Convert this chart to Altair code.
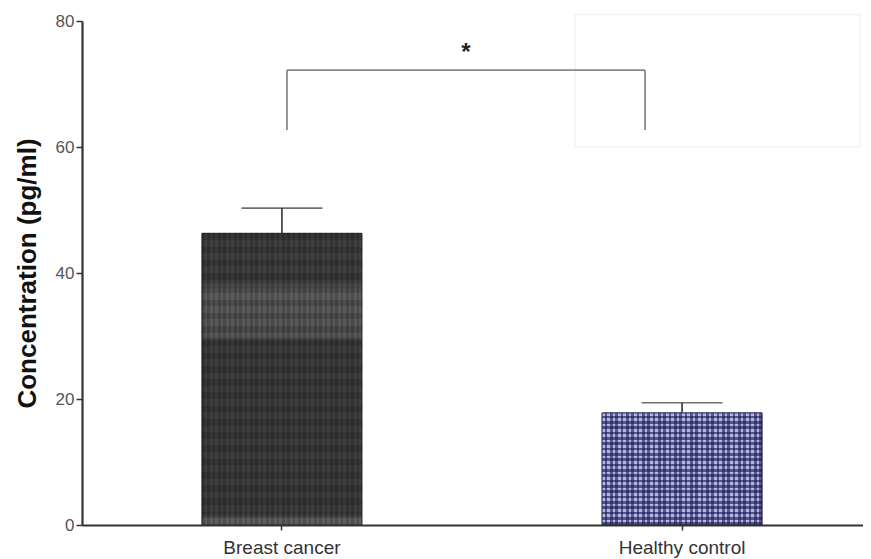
import altair as alt
import pandas as pd

# ---- data ----
groups = ["Breast cancer", "Healthy control"]
means = [46.3, 17.8]
sems = [4.0, 1.6]

bracket_top = 72.2
bracket_leg_bottom = 62.7
star_level = 75.6
sig_label = "*"

ghost_box_low = 60.0
ghost_box_high = 81.0

y_ticks = [0, 20, 40, 60, 80]

df = pd.DataFrame({"group": groups, "mean": means, "sem": sems})
df["upper"] = df["mean"] + df["sem"]

br = pd.DataFrame({"g1": [groups[0]], "g2": [groups[1]],
                   "top": [bracket_top], "bottom": [bracket_leg_bottom],
                   "star": [star_level], "label": [sig_label]})
box = pd.DataFrame({"g": [groups[1]], "lo": [ghost_box_low], "hi": [ghost_box_high]})

xscale = alt.Scale(domain=groups, paddingInner=0.6, paddingOuter=0.276, align=0.543)
yscale = alt.Scale(domain=[0, 80], nice=False)

X = alt.X("group:N", scale=xscale, sort=groups,
          axis=alt.Axis(title=None, labelAngle=0, labelAlign="center", labelBaseline="top",
                        labelFontSize=19, labelColor="#333",
                        labelFont="Liberation Sans", labelPadding=8, tickSize=5,
                        tickColor="#333", tickWidth=1.5, domainColor="#333", domainWidth=2.2))
Y = alt.Y("mean:Q", scale=yscale,
          axis=alt.Axis(title="Concentration (pg/ml)", values=y_ticks, grid=False,
                        titleFontSize=26, titleFont="Liberation Sans", titleFontWeight="bold",
                        titleColor="#111", titlePadding=15,
                        labelFontSize=17, labelColor="#555", labelFont="Liberation Sans",
                        tickSize=6, tickColor="#333", tickWidth=1.5,
                        domainColor="#333", domainWidth=2.2, labelPadding=2))


def stripes(c1, c2, n, horizontal):
    stops = []
    for i in range(n):
        a = i / n
        m = (i + 0.5) / n
        b = (i + 1) / n
        stops += [alt.GradientStop(offset=a, color=c1), alt.GradientStop(offset=m, color=c1),
                  alt.GradientStop(offset=m, color=c2), alt.GradientStop(offset=b, color=c2)]
    if horizontal:
        return alt.LinearGradient(gradient="linear", stops=stops, x1=0, x2=1, y1=0, y2=0)
    return alt.LinearGradient(gradient="linear", stops=stops, x1=0, x2=0, y1=0, y2=1)


# Breast cancer: dark grey with a lighter band
m0 = means[0]
def off(v):
    return (m0 - v) / m0

bc_grad = alt.LinearGradient(
    gradient="linear", x1=0, x2=0, y1=0, y2=1,
    stops=[alt.GradientStop(offset=0, color="#404040"),
           alt.GradientStop(offset=off(38.5), color="#404040"),
           alt.GradientStop(offset=off(37.5), color="#5c5c5c"),
           alt.GradientStop(offset=off(30.0), color="#585858"),
           alt.GradientStop(offset=off(29.0), color="#3e3e3e"),
           alt.GradientStop(offset=off(2.0), color="#3e3e3e"),
           alt.GradientStop(offset=off(1.0), color="#5e5e5e"),
           alt.GradientStop(offset=1, color="#5e5e5e")])

base_bar = alt.Chart(df).encode(x=X, y=Y)

bar_bc = base_bar.transform_filter(alt.datum.group == groups[0]).mark_bar(
    fill=bc_grad, stroke="#222", strokeWidth=1)
bar_bc_tex = base_bar.transform_filter(alt.datum.group == groups[0]).mark_bar(
    fill=stripes("rgba(0,0,0,0.18)", "rgba(0,0,0,0)", 30, True))
bar_bc_tex2 = base_bar.transform_filter(alt.datum.group == groups[0]).mark_bar(
    fill=stripes("rgba(0,0,0,0.15)", "rgba(0,0,0,0)", 22, False))

bar_hc = base_bar.transform_filter(alt.datum.group == groups[1]).mark_bar(
    fill=stripes("#b4b4f0", "#55558e", 21, False), stroke="#1b1b45", strokeWidth=1)
bar_hc_tex = base_bar.transform_filter(alt.datum.group == groups[1]).mark_bar(
    fill=stripes("rgba(27,27,69,0.0)", "rgba(27,27,69,0.6)", 30, True))

err_rule = alt.Chart(df).mark_rule(color="#333", strokeWidth=1.6).encode(
    x=alt.X("group:N", scale=xscale, sort=groups), y="mean:Q", y2="upper:Q")
err_cap = alt.Chart(df).mark_tick(color="#333", thickness=1.6, size=81).encode(
    x=alt.X("group:N", scale=xscale, sort=groups), y=alt.Y("upper:Q", scale=yscale))

br_color = "#8a8a8a"
br_h = alt.Chart(br).mark_rule(color=br_color, strokeWidth=1.8, xOffset=5, x2Offset=-37).encode(
    x=alt.X("g1:N", scale=xscale, sort=groups), x2="g2:N", y=alt.Y("top:Q", scale=yscale))
br_l = alt.Chart(br).mark_rule(color=br_color, strokeWidth=1.8, xOffset=5).encode(
    x=alt.X("g1:N", scale=xscale, sort=groups), y=alt.Y("bottom:Q", scale=yscale), y2="top:Q")
br_r = alt.Chart(br).mark_rule(color=br_color, strokeWidth=1.8, xOffset=-37).encode(
    x=alt.X("g2:N", scale=xscale, sort=groups), y=alt.Y("bottom:Q", scale=yscale), y2="top:Q")
star = alt.Chart(br).mark_text(fontSize=24, fontWeight="bold", color="#222", xOffset=184,
                               baseline="middle", dy=4, font="Liberation Sans").encode(
    x=alt.X("g1:N", scale=xscale, sort=groups), y=alt.Y("star:Q", scale=yscale), text="label:N")

ghost = alt.Chart(box).mark_rect(fill="none", stroke="#f0f0f0", strokeWidth=1.2,
                                 xOffset=-107, x2Offset=178, clip=False).encode(
    x=alt.X("g:N", scale=xscale, sort=groups, bandPosition=0.5),
    x2="g:N", y=alt.Y("lo:Q", scale=yscale), y2="hi:Q")

chart = alt.layer(ghost, bar_bc, bar_bc_tex, bar_bc_tex2, bar_hc, bar_hc_tex, err_rule, err_cap,
                  br_h, br_l, br_r, star).properties(
    width=781, height=504,
    autosize=alt.AutoSizeParams(type="none"),
    padding={"left": 74, "top": 13, "right": 0, "bottom": 34},
    background="white",
).configure_view(stroke=None)

chart.save("out.html", embed_options={"renderer": "svg", "actions": False})
